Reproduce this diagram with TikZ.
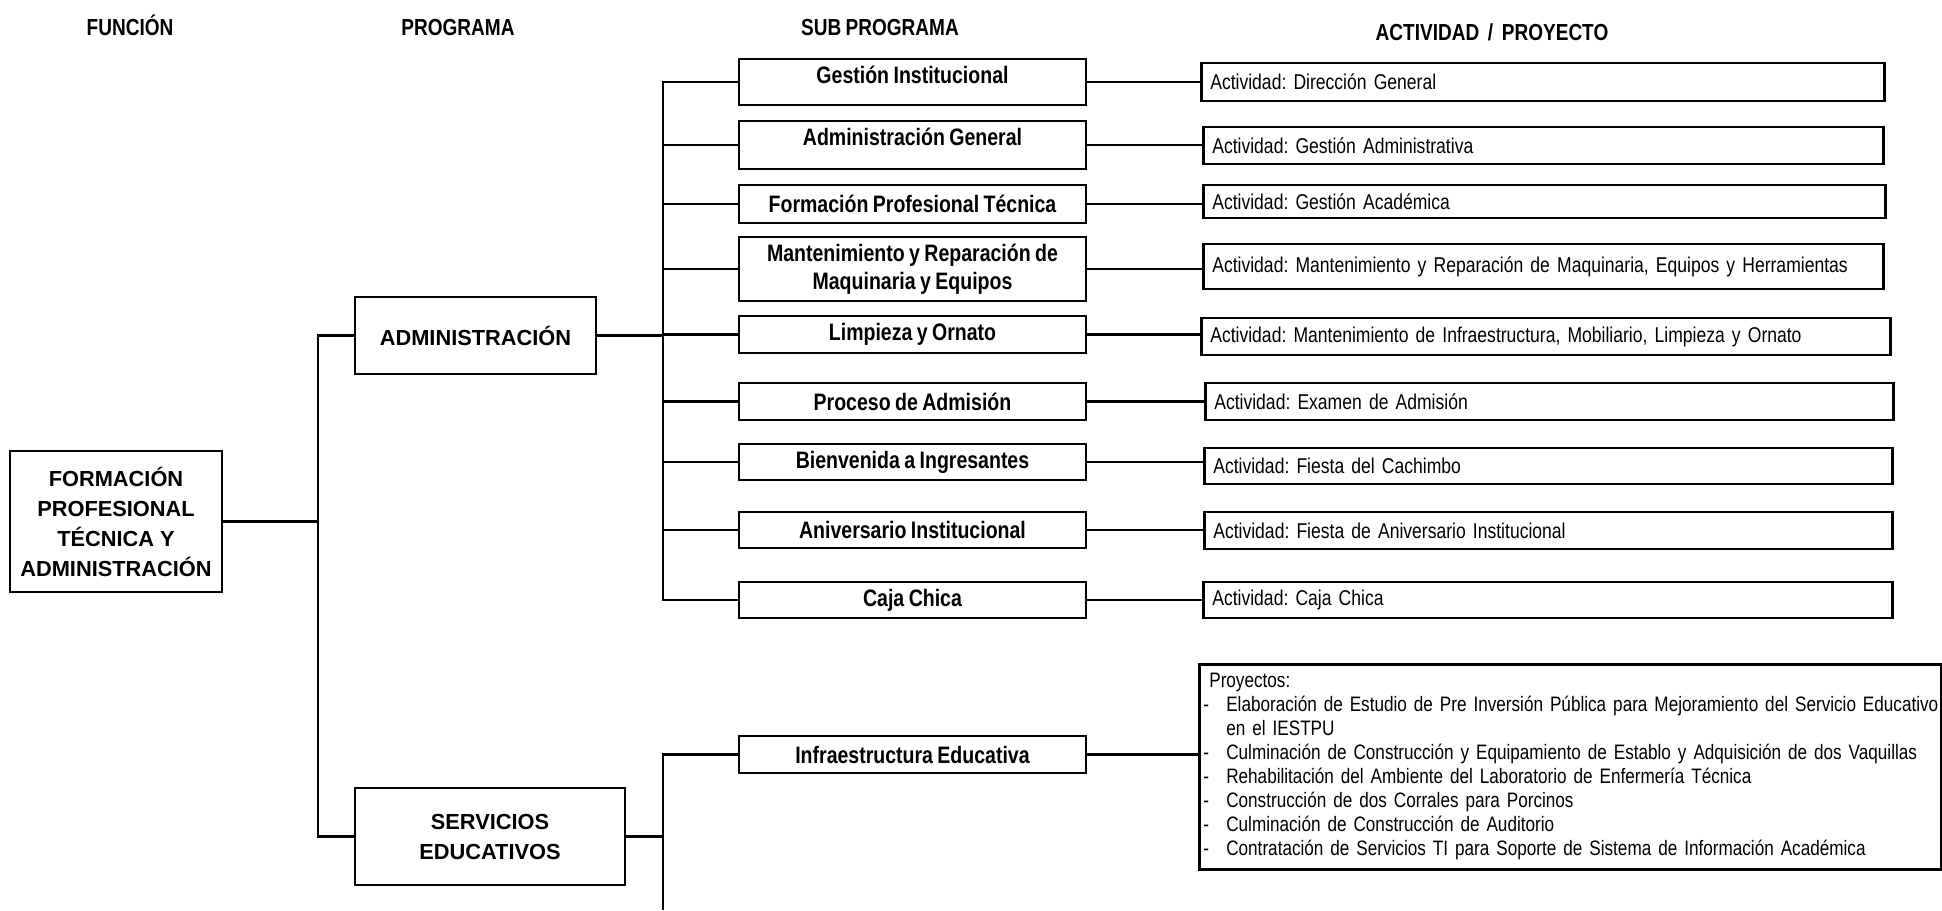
\documentclass[tikz,border=0pt]{standalone}
\usepackage{fontspec}
\setmainfont{Liberation Sans}
\newfontfamily\narrowsf{Liberation Sans}[FakeStretch=0.82, WordSpace=0.82]
\frenchspacing

\begin{document}
\begin{tikzpicture}[
        x=0.5pt, y=-0.5pt,
        head/.style={anchor=base, font=\narrowsf\bfseries\fontsize{11.6}{14}\selectfont},
        progbox/.style={rectangle, draw, line width=1.3pt, align=center, font=\bfseries\fontsize{10.9}{15}\selectfont},
        subbox/.style={rectangle, draw, line width=1.3pt, minimum width=173.5pt, align=center, font=\narrowsf\bfseries\fontsize{11.9}{14}\selectfont},
        actbox/.style={rectangle, draw, line width=1.3pt, anchor=west, align=left, inner xsep=4.5pt, text width=#1, font=\narrowsf\fontsize{10.7}{12}\selectfont},
        link/.style={line width=1.2pt}
    ]
        \useasboundingbox (0,0) rectangle (1942,910);
        \node[head] (hfun) at (130,35) {FUNCIÓN};
        \node[head] (hprog) at (458,35) {PROGRAMA};
        \node[head] (hsub) at (880,35) {SUB PROGRAMA};
        \node[head] (hact) at (1492,40) {ACTIVIDAD~~/~~PROYECTO};
        \node[progbox, minimum width=106pt, minimum height=70.5pt] (fun) at (116,521.5) {FORMACIÓN\\PROFESIONAL\\TÉCNICA Y\\ADMINISTRACIÓN};
        \node[progbox, minimum width=120.5pt, minimum height=38.5pt] (adm) at (475.5,335.5) {ADMINISTRACIÓN};
        \node[progbox, minimum width=135pt, minimum height=48.5pt] (serv) at (490,836.5) {SERVICIOS\\EDUCATIVOS};
        \node[subbox, minimum height=23pt] (gest) at (912.5,82) {\raisebox{3.5pt}[\height][\depth]{Gestión Institucional}};
        \node[subbox, minimum height=24pt] (admgen) at (912.5,145) {\raisebox{4pt}[\height][\depth]{Administración General}};
        \node[subbox, minimum height=19pt] (form) at (912.5,204) {Formación Profesional Técnica};
        \node[subbox, minimum height=30pt] (mant) at (912.5,269) {Mantenimiento y Reparación de\\Maquinaria y Equipos};
        \node[subbox, minimum height=18.5pt] (limp) at (912.5,334.5) {Limpieza y Ornato};
        \node[subbox, minimum height=18.5pt] (proc) at (912.5,401.5) {Proceso de Admisión};
        \node[subbox, minimum height=18pt] (bienv) at (912.5,462) {Bienvenida a Ingresantes};
        \node[subbox, minimum height=18pt] (aniv) at (912.5,530) {Aniversario Institucional};
        \node[subbox, minimum height=18pt] (caja) at (912.5,600) {Caja Chica};
        \node[subbox, minimum height=18.5pt] (infra) at (912.5,754.5) {Infraestructura Educativa};
        \node[actbox=332.5pt, minimum height=19pt] (a1) at (1200,82) {Actividad: Dirección General};
        \node[actbox=331pt, minimum height=18.5pt] (a2) at (1202,145.5) {Actividad: Gestión Administrativa};
        \node[actbox=332pt, minimum height=16.5pt] (a3) at (1202,201.5) {Actividad: Gestión Académica};
        \node[actbox=331pt, minimum height=22.5pt] (a4) at (1202,266.5) {Actividad: Mantenimiento y Reparación de Maquinaria, Equipos y Herramientas};
        \node[actbox=335.5pt, minimum height=18.5pt] (a5) at (1200,336.5) {Actividad: Mantenimiento de Infraestructura, Mobiliario, Limpieza y Ornato};
        \node[actbox=335pt, minimum height=18.5pt] (a6) at (1204,401.5) {Actividad: Examen de Admisión};
        \node[actbox=335pt, minimum height=18pt] (a7) at (1203,466) {Actividad: Fiesta del Cachimbo};
        \node[actbox=335pt, minimum height=18.5pt] (a8) at (1203,530.5) {Actividad: Fiesta de Aniversario Institucional};
        \node[actbox=335.5pt, minimum height=18pt] (a9) at (1202,600) {Actividad: Caja Chica};
        \node[actbox=367pt, anchor=north west, inner xsep=2pt, minimum height=97.5pt, font=\narrowsf\fontsize{10.45}{12}\selectfont] (proy) at (1198,663) {\noindent\begin{tabular}{@{}p{11.5pt}@{}l@{}}
            \multicolumn{2}{@{\hspace{3pt}}l@{}}{Proyectos:}\\
            - & Elaboración de Estudio de Pre Inversión Pública para Mejoramiento del Servicio Educativo\\
              & en el IESTPU\\
            - & Culminación de Construcción y Equipamiento de Establo y Adquisición de dos Vaquillas\\
            - & Rehabilitación del Ambiente del Laboratorio de Enfermería Técnica\\
            - & Construcción de dos Corrales para Porcinos\\
            - & Culminación de Construcción de Auditorio\\
            - & Contratación de Servicios TI para Soporte de Sistema de Información Académica
        \end{tabular}};
        \coordinate (ptrk) at (318,0);
        \coordinate (strk) at (663,0);
        \coordinate (sbot) at (663,910);
        \draw[link] (fun.east) -- (fun.east -| ptrk);
        \draw[link] (adm.west) -- (adm.west -| ptrk) -- (serv.west -| ptrk) -- (serv.west);
        \draw[link] (adm.east) -- (adm.east -| strk);
        \draw[link] (serv.east) -- (serv.east -| strk);
        \draw[link] (gest.west) -- (gest.west -| strk) -- (caja.west -| strk) -- (caja.west);
        \draw[link] (admgen.west) -- (admgen.west -| strk);
        \draw[link] (form.west) -- (form.west -| strk);
        \draw[link] (mant.west) -- (mant.west -| strk);
        \draw[link] (limp.west) -- (limp.west -| strk);
        \draw[link] (proc.west) -- (proc.west -| strk);
        \draw[link] (bienv.west) -- (bienv.west -| strk);
        \draw[link] (aniv.west) -- (aniv.west -| strk);
        \draw[link] (infra.west) -- (infra.west -| strk) -- (sbot);
        \draw[link] (gest.east) -- (gest.east -| a1.west);
        \draw[link] (admgen.east) -- (admgen.east -| a2.west);
        \draw[link] (form.east) -- (form.east -| a3.west);
        \draw[link] (mant.east) -- (mant.east -| a4.west);
        \draw[link] (limp.east) -- (limp.east -| a5.west);
        \draw[link] (proc.east) -- (proc.east -| a6.west);
        \draw[link] (bienv.east) -- (bienv.east -| a7.west);
        \draw[link] (aniv.east) -- (aniv.east -| a8.west);
        \draw[link] (caja.east) -- (caja.east -| a9.west);
        \draw[link] (infra.east) -- (infra.east -| proy.west);
    \end{tikzpicture}
\end{document}
